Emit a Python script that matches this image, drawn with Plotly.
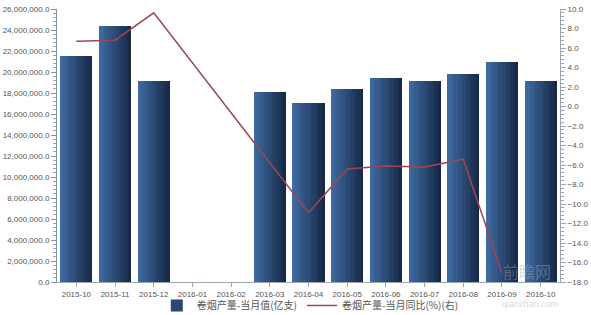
import plotly.graph_objects as go

categories = ["2015-10", "2015-11", "2015-12", "2016-01", "2016-02", "2016-03", "2016-04",
              "2016-05", "2016-06", "2016-07", "2016-08", "2016-09", "2016-10"]
output_values = [21550000, 24380000, 19140000, None, None, 18100000, 17050000,
                 18380000, 19430000, 19140000, 19800000, 20950000, 19140000]
yoy_values = [6.7, 6.8, 9.6, None, None, None, -10.9,
              -6.4, -6.1, -6.2, -5.4, -17.1, None]

bar_name = "卷烟产量-当月值(亿支)"
line_name = "卷烟产量-当月同比(%)(右)"

fig = go.Figure()

# horizontal gradient for bars: several thin slices
N = 12
W = 0.83
c0 = (62, 106, 160)
c1 = (24, 41, 72)
for i in range(N):
    t = i / (N - 1)
    col = "rgb(%d,%d,%d)" % tuple(int(round(a + (b - a) * t)) for a, b in zip(c0, c1))
    fig.add_trace(go.Bar(
        x=categories, y=output_values,
        width=W / N + 0.002, offset=-W / 2 + i * W / N,
        marker=dict(color=col, line=dict(width=0)),
        name=bar_name,
        showlegend=(i == N // 2),
        hoverinfo="skip" if i != N // 2 else None,
    ))

fig.add_trace(go.Scatter(
    x=categories, y=yoy_values, yaxis="y2", mode="lines",
    line=dict(color="#9a4852", width=1.5), connectgaps=True,
    name=line_name,
))

font = "Liberation Sans, Arial, Noto Sans CJK SC, sans-serif"
fig.update_layout(
    width=591, height=315,
    margin=dict(l=57, r=31, t=9, b=33, autoexpand=False),
    paper_bgcolor="white", plot_bgcolor="white",
    barmode="overlay", bargap=0,
    font=dict(family=font, size=8, color="#555555"),
    showlegend=True,
    legend=dict(orientation="h", xref="container", yref="container",
                x=0.525, xanchor="center", y=0.03, yanchor="middle",
                font=dict(size=10, color="#555555", family="Noto Sans CJK SC, sans-serif"),
                itemwidth=30, bgcolor="rgba(0,0,0,0)", tracegroupgap=0),
    xaxis=dict(type="category", categoryorder="array", categoryarray=categories,
               showline=True, linecolor="#9aa6b2", linewidth=1,
               ticks="outside", ticklen=4, tickcolor="#9aa6b2",
               showgrid=False, zeroline=False, fixedrange=True, automargin=False,
               tickfont=dict(size=8, color="#555555")),
    yaxis=dict(range=[0, 26000000], dtick=2000000, tickformat=",.1f",
               showline=True, linecolor="#7f93ab", linewidth=1, automargin=False,
               ticks="outside", ticklen=5, tickcolor="#7f93ab", ticklabelstandoff=0,
               minor=dict(dtick=400000, ticks="outside", ticklen=3, tickcolor="#9aa6b2"),
               showgrid=False, zeroline=False,
               tickfont=dict(size=8, color="#555555")),
    yaxis2=dict(range=[-18, 10], dtick=2, tickformat=".1f", overlaying="y", side="right",
                showline=True, linecolor="#9aa6b2", linewidth=1, automargin=False,
                ticks="outside", ticklen=5, tickcolor="#9aa6b2",
                minor=dict(dtick=0.4, ticks="outside", ticklen=3, tickcolor="#9aa6b2"),
                showgrid=False, zeroline=False,
                tickfont=dict(size=8, color="#555555")),
    annotations=[
        dict(text="前瞻网", xref="paper", yref="paper", x=0.935, y=0.04, xanchor="center",
             yanchor="middle", showarrow=False,
             font=dict(size=16, color="rgba(150,165,180,0.45)", family="Noto Sans CJK SC")),
        dict(text="qianzhan.com", xref="paper", yref="paper", x=0.94, y=-0.08,
             xanchor="center", yanchor="middle", showarrow=False,
             font=dict(size=9, color="rgba(150,165,180,0.45)", family=font)),
    ],
)

fig.write_html("out.html")
